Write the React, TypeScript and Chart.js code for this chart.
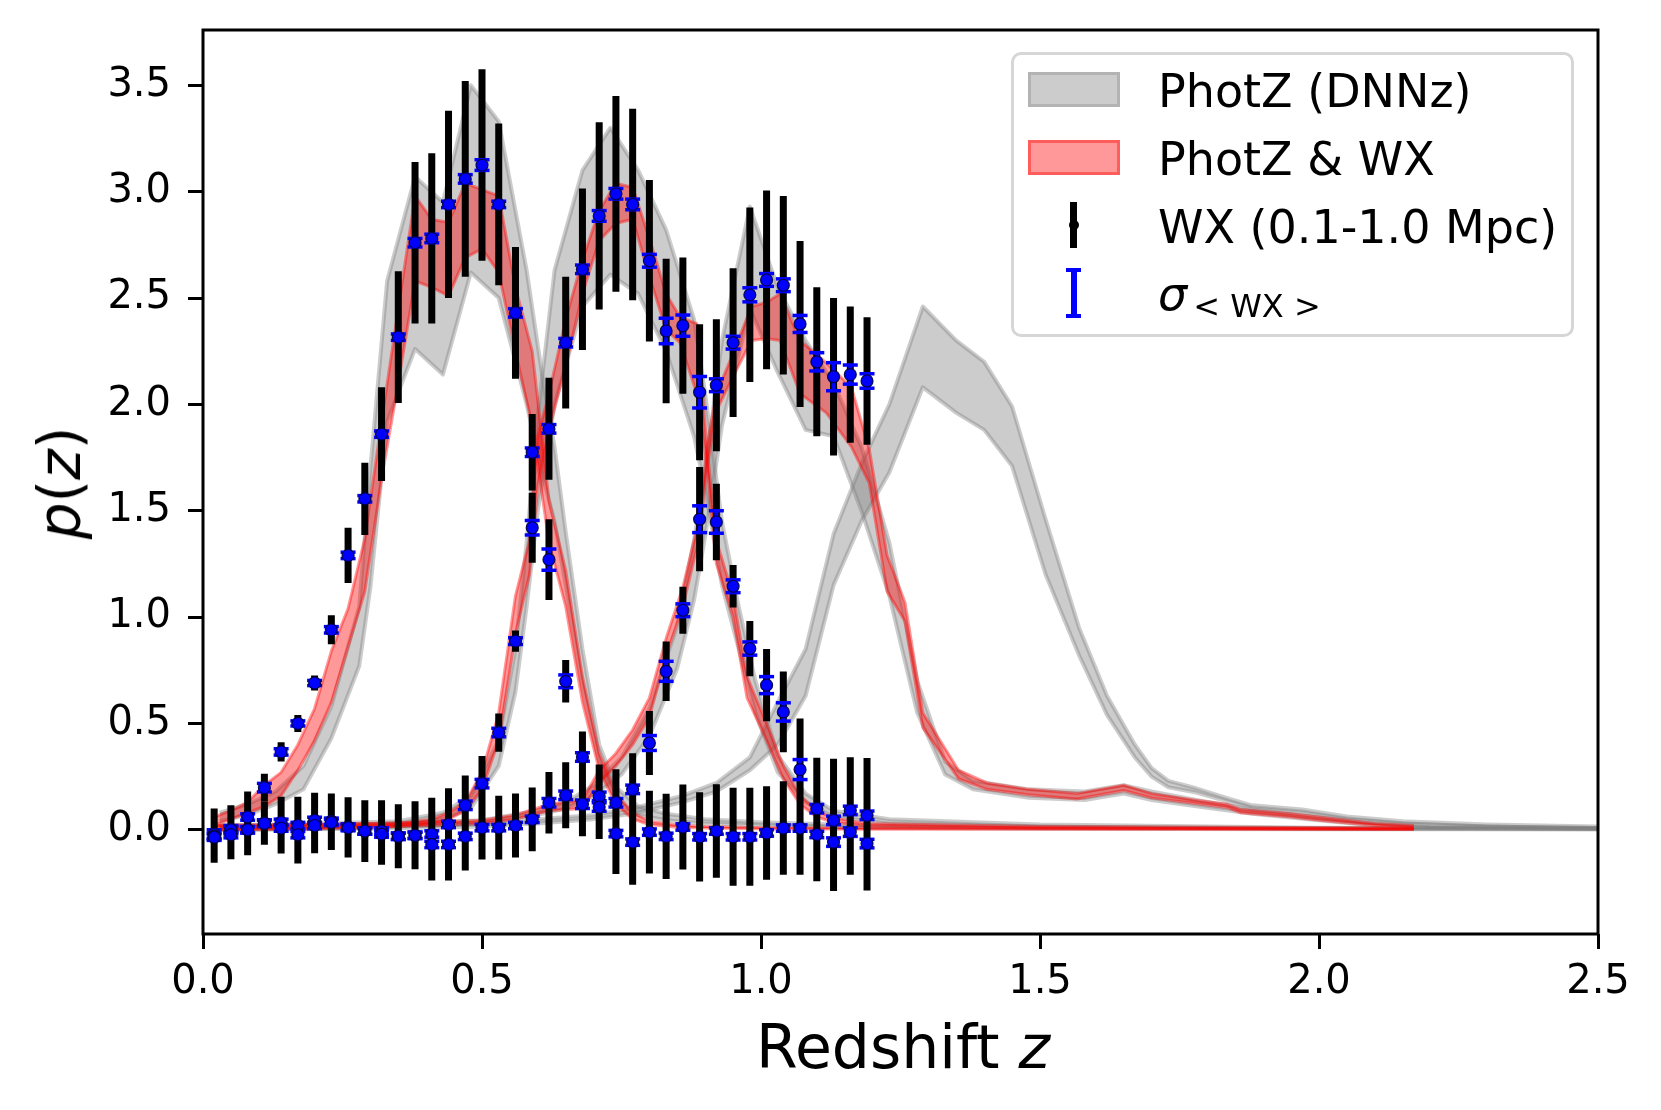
import React, { useEffect, useRef } from "react";
import { Chart, registerables } from "chart.js";
Chart.register(...registerables);

const W = 1661;
const H = 1110;

// ---- WX measurements (three tomographic bins) ----
const zWX = [0.02, 0.05, 0.08, 0.11, 0.14, 0.17, 0.20, 0.23, 0.26, 0.29, 0.32, 0.35, 0.38, 0.41, 0.44, 0.47, 0.50, 0.53, 0.56, 0.59, 0.62, 0.65, 0.68, 0.71, 0.74, 0.77, 0.80, 0.83, 0.86, 0.89, 0.92, 0.95, 0.98, 1.01, 1.04, 1.07, 1.10, 1.13, 1.16, 1.19];

const wx1 = [-0.02, 0.00, 0.06, 0.198, 0.366, 0.50, 0.69, 0.94, 1.29, 1.556, 1.86, 2.316, 2.76, 2.78, 2.94, 3.06, 3.125, 2.94, 2.43, 1.775, 1.27, 0.698, 0.342, 0.157, -0.018, -0.058, -0.011, -0.031, 0.013, -0.033, -0.006, -0.033, -0.033, -0.015, 0.008, 0.008, -0.022, -0.058, -0.011, -0.065];
const err1 = [0.12, 0.115, 0.12, 0.065, 0.045, 0.04, 0.035, 0.068, 0.13, 0.17, 0.22, 0.31, 0.38, 0.40, 0.44, 0.46, 0.45, 0.38, 0.31, 0.18, 0.19, 0.10, 0.12, 0.15, 0.19, 0.20, 0.195, 0.20, 0.20, 0.21, 0.22, 0.23, 0.23, 0.22, 0.22, 0.22, 0.22, 0.23, 0.20, 0.22];
const sig1 = [0.02, 0.02, 0.015, 0.02, 0.015, 0.012, 0.012, 0.015, 0.015, 0.015, 0.015, 0.015, 0.02, 0.02, 0.015, 0.02, 0.025, 0.015, 0.02, 0.02, 0.05, 0.03, 0.02, 0.02, 0.015, 0.015, 0.015, 0.015, 0.015, 0.015, 0.015, 0.015, 0.015, 0.015, 0.015, 0.015, 0.015, 0.02, 0.02, 0.02];

const wx2 = [-0.03, 0.00, 0.00, 0.032, 0.035, 0.02, 0.044, 0.04, 0.013, -0.006, -0.006, -0.031, -0.026, -0.02, 0.025, 0.115, 0.217, 0.457, 0.887, 1.42, 1.885, 2.29, 2.635, 2.886, 2.99, 2.94, 2.675, 2.345, 2.37, 2.057, 1.447, 1.145, 0.852, 0.68, 0.554, 0.283, 0.099, 0.044, 0.091, 0.068];
const err2 = [0.12, 0.115, 0.12, 0.10, 0.12, 0.135, 0.13, 0.13, 0.14, 0.145, 0.145, 0.15, 0.16, 0.17, 0.17, 0.14, 0.13, 0.09, 0.05, 0.165, 0.24, 0.31, 0.38, 0.44, 0.46, 0.45, 0.38, 0.34, 0.32, 0.32, 0.18, 0.10, 0.13, 0.17, 0.19, 0.24, 0.24, 0.29, 0.25, 0.27];
const sig2 = [0.015, 0.015, 0.015, 0.015, 0.015, 0.015, 0.015, 0.015, 0.015, 0.015, 0.015, 0.015, 0.015, 0.015, 0.015, 0.02, 0.02, 0.02, 0.016, 0.034, 0.02, 0.02, 0.02, 0.025, 0.025, 0.025, 0.03, 0.06, 0.05, 0.074, 0.053, 0.03, 0.031, 0.04, 0.043, 0.047, 0.02, 0.02, 0.02, 0.02];

const wx3 = [-0.035, -0.023, 0.00, 0.03, 0.008, -0.023, 0.02, 0.035, 0.01, -0.006, -0.02, -0.03, -0.026, -0.069, -0.069, -0.031, 0.01, 0.01, 0.02, 0.049, 0.127, 0.162, 0.12, 0.107, 0.127, 0.19, 0.408, 0.745, 1.032, 1.46, 2.09, 2.29, 2.515, 2.585, 2.56, 2.378, 2.20, 2.13, 2.14, 2.11];
const err3 = [0.12, 0.115, 0.12, 0.10, 0.12, 0.135, 0.13, 0.13, 0.14, 0.145, 0.145, 0.15, 0.16, 0.17, 0.17, 0.16, 0.15, 0.15, 0.15, 0.15, 0.145, 0.155, 0.15, 0.15, 0.157, 0.17, 0.15, 0.14, 0.11, 0.245, 0.31, 0.35, 0.41, 0.42, 0.42, 0.39, 0.35, 0.37, 0.32, 0.30];
const sig3 = [0.015, 0.015, 0.015, 0.015, 0.015, 0.015, 0.015, 0.015, 0.015, 0.015, 0.015, 0.015, 0.015, 0.015, 0.015, 0.015, 0.015, 0.015, 0.015, 0.015, 0.02, 0.02, 0.02, 0.02, 0.02, 0.02, 0.035, 0.047, 0.03, 0.063, 0.03, 0.03, 0.033, 0.03, 0.03, 0.04, 0.043, 0.066, 0.045, 0.034];

// ---- PhotZ (DNNz) bands (gray) ----
const g1Z = [0.03, 0.08, 0.13, 0.18, 0.23, 0.28, 0.30, 0.33, 0.38, 0.43, 0.48, 0.53, 0.58, 0.61, 0.63, 0.65, 0.68, 0.71, 0.74, 0.78, 0.83, 0.90, 1.00, 1.20, 1.50, 2.00, 2.50];
const g1Lo = [0.04, 0.07, 0.12, 0.19, 0.43, 0.77, 1.14, 1.92, 2.26, 2.14, 2.62, 2.50, 2.00, 1.65, 1.45, 1.15, 0.68, 0.32, 0.14, 0.07, 0.045, 0.03, 0.02, 0.01, 0.005, 0.003, 0.002];
const g1Hi = [0.08, 0.12, 0.18, 0.30, 0.58, 1.05, 1.70, 2.58, 3.07, 2.95, 3.50, 3.33, 2.63, 2.10, 1.80, 1.40, 0.85, 0.40, 0.20, 0.11, 0.075, 0.05, 0.035, 0.02, 0.01, 0.008, 0.005];

const g2Z = [0.03, 0.20, 0.35, 0.43, 0.48, 0.53, 0.56, 0.58, 0.60, 0.63, 0.68, 0.73, 0.78, 0.83, 0.88, 0.90, 0.93, 0.96, 0.99, 1.03, 1.08, 1.13, 1.23, 1.50, 2.00, 2.50];
const g2Lo = [0.0, 0.005, 0.02, 0.05, 0.10, 0.30, 0.65, 1.05, 1.50, 2.00, 2.46, 2.61, 2.52, 2.25, 1.85, 1.60, 1.15, 0.85, 0.55, 0.27, 0.13, 0.06, 0.03, 0.015, 0.005, 0.002];
const g2Hi = [0.02, 0.03, 0.04, 0.08, 0.16, 0.42, 0.85, 1.35, 1.95, 2.63, 3.10, 3.30, 3.10, 2.82, 2.40, 2.05, 1.45, 1.05, 0.70, 0.35, 0.17, 0.09, 0.05, 0.025, 0.01, 0.005];

const g3Z = [0.03, 0.30, 0.50, 0.60, 0.65, 0.70, 0.75, 0.80, 0.85, 0.88, 0.90, 0.93, 0.98, 1.03, 1.08, 1.13, 1.18, 1.23, 1.28, 1.33, 1.38, 1.48, 1.58, 1.65, 1.70, 1.78, 1.88, 1.98, 2.08, 2.20, 2.50];
const g3Lo = [0.0, 0.01, 0.03, 0.07, 0.10, 0.16, 0.26, 0.44, 0.76, 1.08, 1.38, 1.90, 2.45, 2.15, 1.88, 1.85, 1.50, 1.10, 0.55, 0.26, 0.19, 0.15, 0.14, 0.17, 0.14, 0.11, 0.075, 0.05, 0.025, 0.012, 0.005];
const g3Hi = [0.02, 0.025, 0.045, 0.09, 0.13, 0.21, 0.34, 0.57, 0.96, 1.36, 1.68, 2.30, 2.93, 2.55, 2.30, 2.10, 1.80, 1.35, 0.70, 0.32, 0.23, 0.19, 0.18, 0.21, 0.18, 0.14, 0.095, 0.065, 0.035, 0.018, 0.008];

const g4Z = [0.03, 0.30, 0.50, 0.60, 0.70, 0.77, 0.86, 0.92, 0.98, 1.03, 1.08, 1.13, 1.18, 1.23, 1.29, 1.35, 1.40, 1.45, 1.51, 1.57, 1.62, 1.67, 1.70, 1.73, 1.78, 1.84, 1.88, 1.97, 2.05, 2.15, 2.30, 2.50];
const g4Lo = [0.0, 0.005, 0.015, 0.03, 0.05, 0.075, 0.13, 0.18, 0.28, 0.40, 0.63, 1.15, 1.45, 1.68, 2.08, 1.96, 1.88, 1.71, 1.20, 0.82, 0.54, 0.34, 0.25, 0.20, 0.175, 0.13, 0.10, 0.08, 0.05, 0.03, 0.015, 0.008];
const g4Hi = [0.01, 0.015, 0.03, 0.05, 0.07, 0.10, 0.16, 0.22, 0.34, 0.60, 0.85, 1.39, 1.72, 2.00, 2.46, 2.30, 2.20, 1.99, 1.46, 0.95, 0.63, 0.40, 0.29, 0.23, 0.195, 0.145, 0.115, 0.095, 0.062, 0.04, 0.025, 0.015];

// ---- PhotZ & WX bands (red) ----
const r1Z = [0.02, 0.05, 0.08, 0.11, 0.14, 0.17, 0.20, 0.23, 0.26, 0.29, 0.32, 0.35, 0.38, 0.41, 0.44, 0.47, 0.50, 0.53, 0.56, 0.59, 0.62, 0.65, 0.68, 0.71, 0.74, 0.77, 0.80, 0.85, 0.90, 1.00, 1.20, 1.50, 2.17];
const r1Lo = [0.02, 0.05, 0.08, 0.11, 0.16, 0.28, 0.42, 0.60, 0.86, 1.12, 1.65, 2.10, 2.58, 2.55, 2.51, 2.69, 2.73, 2.62, 2.25, 1.90, 1.35, 1.05, 0.60, 0.28, 0.12, 0.05, 0.025, 0.012, 0.008, 0.005, 0.003, 0.002, 0.001];
const r1Hi = [0.06, 0.09, 0.13, 0.21, 0.27, 0.40, 0.57, 0.84, 1.04, 1.37, 1.92, 2.45, 2.98, 2.87, 2.855, 3.04, 3.01, 2.98, 2.55, 2.25, 1.55, 1.22, 0.72, 0.36, 0.17, 0.08, 0.04, 0.022, 0.015, 0.01, 0.008, 0.006, 0.005];

const r2Z = [0.02, 0.20, 0.35, 0.41, 0.44, 0.47, 0.50, 0.53, 0.56, 0.585, 0.60, 0.62, 0.65, 0.68, 0.71, 0.74, 0.77, 0.80, 0.83, 0.855, 0.885, 0.903, 0.92, 0.95, 0.975, 1.01, 1.04, 1.07, 1.10, 1.13, 1.19, 1.50, 2.17];
const r2Lo = [0.0, 0.005, 0.015, 0.03, 0.05, 0.09, 0.19, 0.42, 0.92, 1.20, 1.62, 1.88, 2.18, 2.52, 2.77, 2.85, 2.87, 2.60, 2.35, 2.29, 2.05, 1.72, 1.25, 1.00, 0.62, 0.42, 0.24, 0.12, 0.06, 0.035, 0.018, 0.008, 0.003];
const r2Hi = [0.02, 0.025, 0.03, 0.05, 0.08, 0.13, 0.27, 0.55, 1.10, 1.36, 1.85, 2.05, 2.40, 2.68, 2.91, 3.04, 3.02, 2.78, 2.52, 2.41, 2.38, 1.80, 1.36, 1.10, 0.72, 0.50, 0.30, 0.16, 0.09, 0.055, 0.03, 0.015, 0.008];

const r3Z = [0.02, 0.20, 0.40, 0.50, 0.56, 0.62, 0.68, 0.71, 0.74, 0.77, 0.80, 0.83, 0.86, 0.89, 0.903, 0.92, 0.95, 0.983, 1.01, 1.034, 1.07, 1.117, 1.162, 1.194, 1.226, 1.258, 1.29, 1.354, 1.405, 1.48, 1.566, 1.65, 1.70, 1.776, 1.835, 1.86, 1.95, 2.00, 2.10, 2.17];
const r3Lo = [0.0, 0.01, 0.02, 0.03, 0.05, 0.09, 0.10, 0.22, 0.30, 0.40, 0.53, 0.82, 1.05, 1.38, 1.70, 1.97, 2.13, 2.30, 2.31, 2.30, 2.05, 1.96, 1.80, 1.63, 1.12, 0.98, 0.48, 0.24, 0.19, 0.165, 0.145, 0.185, 0.15, 0.125, 0.105, 0.08, 0.06, 0.045, 0.02, 0.01];
const r3Hi = [0.02, 0.025, 0.035, 0.045, 0.07, 0.12, 0.14, 0.28, 0.36, 0.47, 0.62, 0.90, 1.14, 1.47, 1.80, 2.05, 2.24, 2.46, 2.48, 2.52, 2.30, 2.195, 2.08, 1.79, 1.29, 1.07, 0.55, 0.28, 0.22, 0.19, 0.17, 0.21, 0.17, 0.14, 0.12, 0.095, 0.075, 0.06, 0.03, 0.02];

// ---- axes ----
const xTicks = [0, 0.5, 1.0, 1.5, 2.0, 2.5];
const yTicks = [0, 0.5, 1.0, 1.5, 2.0, 2.5, 3.0, 3.5];
const X_MIN = 0, X_MAX = 2.5, Y_MIN = -0.49, Y_MAX = 3.76;

const GRAY = "rgba(128,128,128,0.4)";
const RED = "rgba(255,0,0,0.4)";
const FONT = "'DejaVu Sans', 'Liberation Sans', sans-serif";

const bins = [
  { v: wx1, e: err1, s: sig1 },
  { v: wx2, e: err2, s: sig2 },
  { v: wx3, e: err3, s: sig3 },
];

function band(z: number[], lo: number[], hi: number[], color: string, bw: number, order: number) {
  return [
    { type: "line", data: z.map((x, i) => ({ x, y: lo[i] })), borderColor: color, borderWidth: bw, pointRadius: 0, fill: false, tension: 0, order, borderJoinStyle: "round" },
    { type: "line", data: z.map((x, i) => ({ x, y: hi[i] })), borderColor: color, borderWidth: bw, pointRadius: 0, fill: "-1", backgroundColor: color, tension: 0, order, borderJoinStyle: "round" },
  ];
}

const framePlugin = {
  id: "frame",
  afterDatasetsDraw(chart: any) {
    const { ctx, chartArea } = chart;
    ctx.save();
    ctx.strokeStyle = "#000";
    ctx.lineWidth = 3;
    ctx.strokeRect(chartArea.left, chartArea.top, chartArea.right - chartArea.left, chartArea.bottom - chartArea.top);
    ctx.restore();
  },
};

function noPad(s: any) {
  s.paddingTop = 0;
  s.paddingBottom = 0;
  s.paddingLeft = 0;
  s.paddingRight = 0;
}

export default function App() {
  const ref = useRef<HTMLCanvasElement>(null);

  useEffect(() => {
    const datasets: any[] = [];
    datasets.push(...band(g1Z, g1Lo, g1Hi, GRAY, 4, 20));
    datasets.push(...band(g2Z, g2Lo, g2Hi, GRAY, 4, 19));
    datasets.push(...band(g3Z, g3Lo, g3Hi, GRAY, 4, 18));
    datasets.push(...band(g4Z, g4Lo, g4Hi, GRAY, 4, 17));
    datasets.push(...band(r1Z, r1Lo, r1Hi, RED, 3, 12));
    datasets.push(...band(r2Z, r2Lo, r2Hi, RED, 3, 11));
    datasets.push(...band(r3Z, r3Lo, r3Hi, RED, 3, 10));

    const blackBars: any[] = [];
    const blueBars: any[] = [];
    const caps: any[] = [];
    const pts: any[] = [];
    bins.forEach((b) => {
      zWX.forEach((x, i) => {
        blackBars.push({ x, y: b.v[i] - b.e[i] }, { x, y: b.v[i] + b.e[i] }, { x, y: null });
        blueBars.push({ x, y: b.v[i] - b.s[i] }, { x, y: b.v[i] + b.s[i] }, { x, y: null });
        caps.push({ x, y: b.v[i] - b.s[i] }, { x, y: b.v[i] + b.s[i] });
        pts.push({ x, y: b.v[i] });
      });
    });

    datasets.push({ type: "line", data: blackBars, borderColor: "#000", borderWidth: 7, borderCapStyle: "butt", pointRadius: 0, spanGaps: false, fill: false, order: 6 });
    datasets.push({ type: "line", data: blueBars, borderColor: "#0000ff", borderWidth: 4, borderCapStyle: "butt", pointRadius: 0, spanGaps: false, fill: false, order: 5 });
    datasets.push({ type: "line", data: caps, showLine: false, pointStyle: "line", pointRadius: 7.5, pointBorderWidth: 3.5, pointBorderColor: "#0000ff", pointBackgroundColor: "#0000ff", order: 4 });
    datasets.push({ type: "line", data: pts, showLine: false, pointStyle: "circle", pointRadius: 6, pointBorderWidth: 1.2, pointBorderColor: "rgba(0,0,60,0.9)", pointBackgroundColor: "#0000ff", order: 3 });

    const tickFont = { family: FONT, size: 40 };
    const chart = new Chart(ref.current as HTMLCanvasElement, {
      type: "line",
      data: { datasets },
      plugins: [framePlugin],
      options: {
        animation: false,
        responsive: false,
        events: [],
        layout: { padding: { top: 30, right: 63, bottom: 0, left: 0 }, autoPadding: false },
        plugins: { legend: { display: false }, tooltip: { enabled: false } },
        scales: {
          x: {
            type: "linear",
            min: X_MIN,
            max: X_MAX,
            afterBuildTicks: (s: any) => { s.ticks = xTicks.map((value) => ({ value })); },
            afterFit: (s: any) => { s.height = 176; noPad(s); },
            ticks: { color: "#000", font: tickFont, padding: 10, maxRotation: 0, autoSkip: false, callback: (v: any) => Number(v).toFixed(1) },
            grid: { drawOnChartArea: false, drawTicks: true, tickLength: 15, tickWidth: 3, tickColor: "#000" },
            border: { display: false },
          },
          y: {
            type: "linear",
            min: Y_MIN,
            max: Y_MAX,
            afterBuildTicks: (s: any) => { s.ticks = yTicks.map((value) => ({ value })); },
            afterFit: (s: any) => { s.width = 203; noPad(s); },
            ticks: { color: "#000", font: tickFont, padding: 17, autoSkip: false, callback: (v: any) => Number(v).toFixed(1) },
            grid: { drawOnChartArea: false, drawTicks: true, tickLength: 15, tickWidth: 3, tickColor: "#000" },
            border: { display: false },
          },
        },
      } as any,
    } as any);
    return () => chart.destroy();
  }, []);

  const legendText: React.CSSProperties = { position: "absolute", left: 1158, fontSize: 46, lineHeight: "46px", whiteSpace: "nowrap", color: "#000", fontFamily: FONT };

  return (
    <div style={{ position: "fixed", left: 0, top: 0, width: W, height: H, background: "#fff", overflow: "hidden", fontFamily: FONT }}>
      <canvas ref={ref} width={W} height={H} style={{ position: "absolute", left: 0, top: 0, width: W, height: H }} />

      {/* axis titles */}
      <div style={{ position: "absolute", left: 903, top: 1017, transform: "translateX(-50%)", fontSize: 60, lineHeight: "60px", whiteSpace: "nowrap", color: "#000" }}>
        Redshift <span style={{ fontStyle: "italic" }}>z</span>
      </div>
      <div style={{ position: "absolute", left: 60, top: 483, transform: "translate(-50%,-50%) rotate(-90deg)", fontSize: 58, lineHeight: "58px", whiteSpace: "nowrap", color: "#000" }}>
        <span style={{ fontStyle: "italic" }}>p</span>(<span style={{ fontStyle: "italic" }}>z</span>)
      </div>

      {/* legend */}
      <div style={{ position: "absolute", left: 1011, top: 52, width: 563, height: 285, boxSizing: "border-box", border: "3px solid #d6d6d6", borderRadius: 10, background: "rgba(255,255,255,0.8)" }} />
      <div style={{ position: "absolute", left: 1028, top: 72, width: 92, height: 35, boxSizing: "border-box", background: "#cccccc", border: "3px solid #b3b3b3" }} />
      <div style={{ position: "absolute", left: 1028, top: 139.5, width: 92, height: 35, boxSizing: "border-box", background: "#ff9999", border: "3px solid #ff5c5c" }} />
      <div style={{ position: "absolute", left: 1070.2, top: 201.7, width: 7, height: 46, background: "#000" }} />
      <div style={{ position: "absolute", left: 1068.7, top: 220, width: 10, height: 10, borderRadius: 5, background: "#000" }} />
      <div style={{ position: "absolute", left: 1071, top: 270, width: 5.5, height: 46, background: "#0000ff" }} />
      <div style={{ position: "absolute", left: 1066.3, top: 268, width: 15, height: 4, background: "#0000ff" }} />
      <div style={{ position: "absolute", left: 1066.3, top: 314, width: 15, height: 4, background: "#0000ff" }} />
      <div style={{ position: "absolute", left: 1070.7, top: 290, width: 6, height: 6, borderRadius: 3, background: "#0000ff" }} />

      <div style={{ ...legendText, top: 67.6 }}>PhotZ (DNNz)</div>
      <div style={{ ...legendText, top: 136.1 }}>PhotZ &amp; WX</div>
      <div style={{ ...legendText, top: 204.4 }}>WX (0.1-1.0 Mpc)</div>
      <div style={{ ...legendText, top: 271 }}>
        <span style={{ fontStyle: "italic" }}>σ</span>
        <span style={{ fontSize: 32, position: "relative", top: 7, marginLeft: 6 }}>&lt; WX &gt;</span>
      </div>
    </div>
  );
}
